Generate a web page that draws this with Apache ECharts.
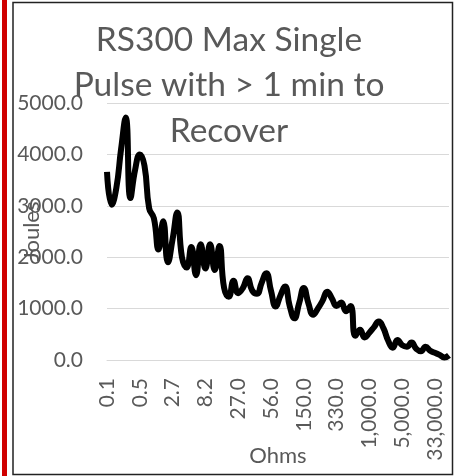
<!DOCTYPE html>
<html>
<head>
<meta charset="utf-8">
<script src="https://cdn.jsdelivr.net/npm/echarts@6/dist/echarts.min.js"></script>
<style>
html,body{margin:0;padding:0;background:#fff;}
#c{width:454px;height:476px;}
</style>
</head>
<body>
<div id="c"></div>
<script>
const titleText = "RS300 Max Single\nPulse with > 1 min to\nRecover";
const xAxisTitle = "Ohms";
const yAxisTitle = "Joules";
// labels at every 7th category read 0.1,0.5,2.7,8.2,27,56,150,330,1000,5000,33000
const categories = [0.1,0.15,0.2,0.25,0.3,0.33,0.4,
  0.5,0.68,0.75,1,1.2,1.5,2,
  2.7,3,3.3,3.9,4.7,5.6,6.8,
  8.2,10,12,15,18,20,22,
  27,30,33,39,43,47,51,
  56,62,68,75,82,100,120,
  150,180,200,220,250,270,300,
  330,390,470,560,680,750,820,
  1000,1200,1500,2000,2500,3000,4000,
  5000,6800,8200,10000,12000,15000,20000,
  33000,47000,68000,100000];
const joules = [3660,3020,3350,4100,4720,3150,3700,4000,3780,2950,
  2760,2150,2700,1900,2350,2870,2000,1800,2200,1650,
  2250,1780,2250,1750,2220,1400,1230,1540,1300,1400,
  1590,1350,1290,1500,1690,1350,1040,1250,1430,1050,
  810,1100,1400,1100,880,1000,1150,1330,1200,1050,
  1120,950,1050,470,590,440,530,640,750,620,
  380,240,390,290,260,340,220,170,260,180,
  140,100,50,90];
const yMin = 0, yMax = 5000, yStep = 1000;

const grey = '#595959';
const fontFam = 'Lato, "Open Sans", sans-serif';
const chart = echarts.init(document.getElementById('c'), null, {renderer:'canvas'});
chart.setOption({
  animation: false,
  backgroundColor: '#fff',
  title: {
    text: titleText,
    left: 224, top: 12, textAlign: 'center',
    textStyle: {color: grey, fontFamily: fontFam, fontWeight: 'normal', fontSize: 33.5, lineHeight: 45.5}
  },
  graphic: [
    {type:'rect', shape:{x:2, y:0, width:5, height:476}, style:{fill:'#d00000'}, silent:true},
    {type:'rect', shape:{x:13, y:2.5, width:439.5, height:472}, style:{fill:'none', stroke:'#222', lineWidth:1.5}, silent:true}
  ],
  grid: {left: 107, right: 5, top: 103, bottom: 116, containLabel: false, outerBoundsMode: 'none'},
  xAxis: {
    type: 'category',
    data: categories.map(String),
    boundaryGap: false,
    name: xAxisTitle,
    nameLocation: 'middle',
    nameGap: 85,
    nameMoveOverlap: false,
    nameTextStyle: {color: grey, fontFamily: fontFam, fontSize: 22},
    axisLine: {show: true, lineStyle: {color: '#d9d9d9', width: 1}},
    axisTick: {show: false},
    axisLabel: {
      interval: 6, rotate: 90, margin: 18, color: grey, fontFamily: fontFam, fontSize: 21,
      padding: [8, 0, 0, 0],
      formatter: v => Number(v).toLocaleString('en-US', {minimumFractionDigits: 1, maximumFractionDigits: 1})
    },
    splitLine: {show: false}
  },
  yAxis: {
    type: 'value',
    min: yMin, max: yMax, interval: yStep,
    name: yAxisTitle,
    nameLocation: 'middle',
    nameGap: 64,
    nameMoveOverlap: false,
    nameTextStyle: {color: grey, fontFamily: fontFam, fontSize: 22},
    axisLine: {show: false},
    axisTick: {show: false},
    axisLabel: {margin: 24, color: grey, fontFamily: fontFam, fontSize: 21, formatter: v => v.toFixed(1)},
    splitLine: {show: true, lineStyle: {color: '#d9d9d9', width: 1}}
  },
  series: [{
    type: 'line',
    data: joules,
    smooth: 0.5,
    symbol: 'none',
    lineStyle: {color: '#000', width: 6, join: 'round', cap: 'butt'},
    z: 3
  }]
});
</script>
</body>
</html>
